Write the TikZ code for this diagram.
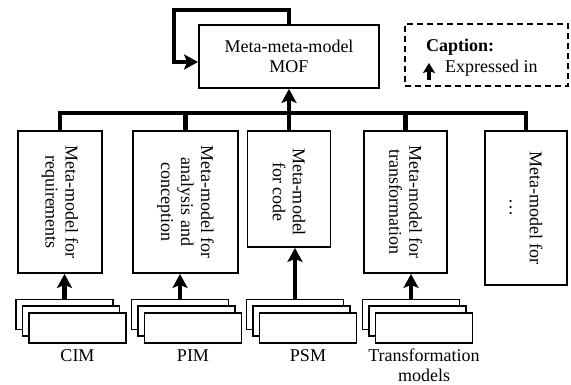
\documentclass[tikz,border=0pt]{standalone}
\usepackage{fontspec}
\setmainfont{Liberation Serif}
\newfontfamily\timesfont{Liberation Serif}
\usetikzlibrary{arrows.meta}
\begin{document}
\begin{tikzpicture}[x=1pt,y=-1pt,
  every node/.style={font=\timesfont\fontsize{18}{20}\selectfont, inner sep=0pt},
  mbox/.style={draw, line width=1.8pt, fill=white},
  sheet/.style={draw, line width=1.8pt, fill=white, minimum width=97pt, minimum height=30pt},
  busline/.style={line width=4.5pt},
  arr/.style={line width=4.5pt, -{Stealth[length=14pt,width=15pt,inset=3pt]}},
  smallarr/.style={line width=3.5pt, -{Stealth[length=10pt,width=12pt,inset=2pt]}},
  capbox/.style={draw, dash pattern=on 6pt off 4pt, line width=1.5pt},
  vtext/.style={rotate=-90, align=center}
]
\useasboundingbox (0,0) rectangle (571,385);

% top model
\node[mbox, minimum width=180pt, minimum height=63pt, align=center] (mof) at (289,56.5) {Meta-meta-model\\MOF};

% meta-model boxes
\node[mbox, minimum width=84pt, minimum height=142pt] (b1) at (60,202) {};
\node[mbox, minimum width=105pt, minimum height=142pt] (b2) at (185.5,202) {};
\node[mbox, minimum width=83pt, minimum height=116pt] (b3) at (289,189) {};
\node[mbox, minimum width=83pt, minimum height=142pt] (b4) at (405.5,202) {};
\node[mbox, minimum width=82pt, minimum height=154pt] (b5) at (526,208) {};

\node[vtext] (t1) at (b1.center) {Meta-model for\\requirements};
\node[vtext] (t2) at (b2.center) {Meta-model for\\analysis and\\conception};
\node[vtext] (t3) at ([yshift=-3pt]b3.center) {Meta-model\\for code};
\node[vtext] (t4) at (b4.center) {Meta-model for\\transformation};
\node[vtext] (t5) at (b5.center) {Meta-model for\\\dots};

% bus
\coordinate (bus) at (0,113);
\draw[busline] (b1.north) -- (b1.north |- bus) -- (b5.north |- bus) -- (b5.north);
\draw[busline] (b2.north) -- (b2.north |- bus);
\draw[busline] (b4.north) -- (b4.north |- bus);
\draw[arr] (b3.north) -- (mof.south);

% self loop
\coordinate (loopL) at (174,10);
\draw[arr] (mof.north) |- (loopL) |- ([yshift=-5.5pt]mof.west);

% stacks of models
\foreach \n/\x in {1/64.5, 2/180, 3/295, 4/411} {
  \node[sheet] (s\n a) at (\x,314.5) {};
  \node[sheet] (s\n b) at (\x+6.5,321) {};
  \node[sheet] (s\n c) at (\x+13,328) {};
}
\draw[arr] (s1a.north) -- (s1a.north |- b1.south);
\draw[arr] (s2a.north) -- (s2a.north |- b2.south);
\draw[arr] (s3a.north) -- (s3a.north |- b3.south);
\draw[arr] (s4a.north) -- (s4a.north |- b4.south);

% labels
\node[anchor=north] (l1) at (s1c.south |- 0,349.5) {CIM};
\node[anchor=north] (l2) at (s2c.south |- 0,349.5) {PIM};
\node[anchor=north] (l3) at (s3c.south |- 0,349.5) {PSM};
\node[anchor=north, align=center] (l4) at (s4c.south |- 0,348.5) {Transformation\\models};

% caption
\node[capbox, minimum width=163pt, minimum height=62pt] (cap) at (486.5,55) {};
\node[anchor=base west, font=\timesfont\fontsize{18}{20}\selectfont\bfseries] (capT) at (426,52) {Caption:};
\node[anchor=base west] (capE) at (445,73) {Expressed in};
\coordinate (ca1) at (429,80);
\coordinate (ca2) at (429,63);
\draw[smallarr] (ca1) -- (ca2);
\end{tikzpicture}
\end{document}
